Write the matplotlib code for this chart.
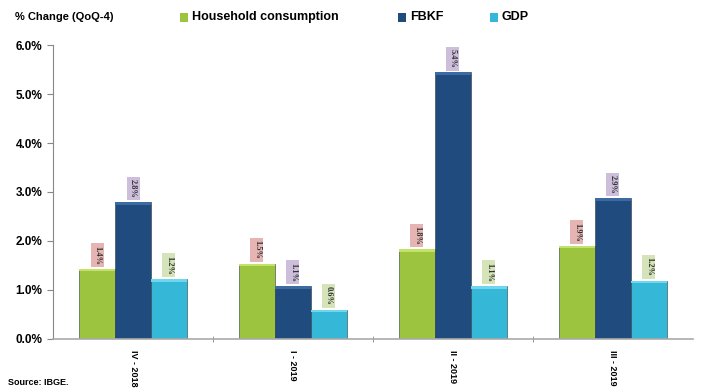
import matplotlib.pyplot as plt
import numpy as np
from matplotlib.patches import Rectangle

quarters = ["IV - 2018", "I - 2019", "II - 2019", "III - 2019"]
series = ["Household consumption", "FBKF", "GDP"]
household = [1.43, 1.54, 1.83, 1.90]
fbkf = [2.79, 1.08, 5.44, 2.87]
gdp = [1.22, 0.60, 1.08, 1.19]

bar_colors = ["#9dc43f", "#1f4b7e", "#35b8d8"]
top_colors = ["#c3e26a", "#3c6aa3", "#6fd6ee"]
label_boxes = ["#e6b5b3", "#cdbfdc", "#d5e4b8"]

plt.rcParams['font.family'] = ['Liberation Sans', 'DejaVu Sans']

fig = plt.figure(figsize=(7.04, 3.9), dpi=100)
ax = fig.add_axes([0.0753, 0.1308, 0.909, 0.7538])

x = np.arange(len(quarters))
w = 0.225
for i, vals in enumerate([household, fbkf, gdp]):
    pos = x + (i - 1) * w
    ax.bar(pos, vals, w, color=bar_colors[i], edgecolor="#2e3b44",
           linewidth=0.4, zorder=2)
    for p, v in zip(pos, vals):
        # lighter bevel on the top edge of each bar
        ax.add_patch(Rectangle((p - w / 2, v - 0.05), w, 0.05,
                               facecolor=top_colors[i], edgecolor="none",
                               zorder=3))
        ax.text(p, v + 0.09, f"{v:.1f}%", rotation=270, ha="center",
                va="bottom", fontsize=6, fontweight="bold",
                family="Liberation Serif", color="#333333", zorder=4,
                bbox=dict(boxstyle="square,pad=0.3", fc=label_boxes[i],
                          ec="none"))

ax.set_xlim(-0.5, len(quarters) - 0.5)
ax.set_ylim(0, 6.0)
ax.set_yticks(np.arange(0, 6.1, 1.0))
ax.set_yticklabels([f"{t:.1f}%" for t in np.arange(0, 6.1, 1.0)],
                   fontsize=8.5, fontweight="bold")
ax.set_xticks(x)
ax.set_xticklabels(quarters, rotation=270, fontsize=6.5, fontweight="bold")
ax.tick_params(axis="x", length=0, pad=8)
ax.set_xticks(x[:-1] + 0.5, minor=True)
ax.tick_params(axis="x", which="minor", length=4, direction="inout",
               color="#888888")
ax.tick_params(axis="y", length=4, color="#888888")

for s in ["top", "right"]:
    ax.spines[s].set_visible(False)
ax.spines["left"].set_color("#888888")
ax.spines["bottom"].set_color("#aaaaaa")
ax.spines["left"].set_linewidth(0.8)
ax.spines["bottom"].set_linewidth(1.2)

fig.text(0.021, 0.956, "% Change (QoQ-4)", fontsize=8, fontweight="bold",
         va="center")

# legend laid out across the top
legend_x = [0.256, 0.565, 0.696]
for lx, name, c in zip(legend_x, series, bar_colors):
    fig.patches.append(Rectangle((lx, 0.944), 0.0115, 0.022,
                                 transform=fig.transFigure, facecolor=c,
                                 edgecolor="none"))
    fig.text(lx + 0.017, 0.956, name, fontsize=9, fontweight="bold",
             va="center")

fig.text(0.012, 0.02, "Source: IBGE.", fontsize=6.5, fontweight="bold",
         va="center")

fig.savefig("out.png", dpi=100)
